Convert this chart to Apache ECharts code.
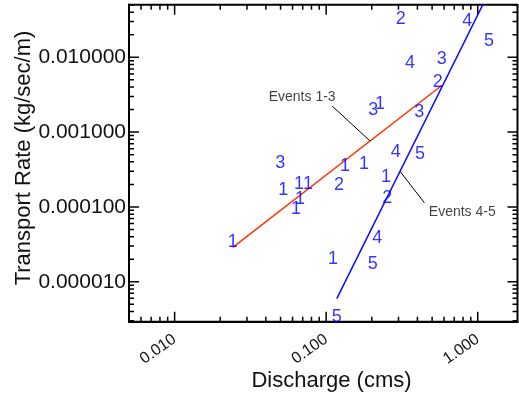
<!DOCTYPE html>
<html><head><meta charset="utf-8">
<script src="https://cdn.jsdelivr.net/npm/echarts@6/dist/echarts.min.js"></script>
<style>html,body{margin:0;padding:0;background:#fff}#c{width:519px;height:402px}</style>
</head><body><div id="c"></div>
<script>
// ---- data (Discharge [cms], Transport Rate [kg/sec/m]) ----
const event1 = [[0.2268,0.002375],[0.1333,0.000352],[0.1779,0.0003745],[0.0520,0.0001682],
  [0.0663,0.0002023],[0.0760,0.0002023],[0.2484,0.000251],[0.0673,0.0001275],
  [0.0633,0.0000937],[0.0242,0.00003395],[0.1111,0.0000201]];
const event2 = [[0.3105,0.03221],[0.5443,0.004719],[0.1217,0.0001932],[0.2534,0.0001303]];
const event3 = [[0.2048,0.001975],[0.5784,0.00949],[0.4118,0.001874],[0.0497,0.0003863]];
const event4 = [[0.8535,0.03085],[0.3575,0.008468],[0.2878,0.0005385],[0.2177,0.00003875]];
const event5 = [[1.186,0.01667],[0.416,0.0005095],[0.2029,0.0000171],[0.1175,0.00000337]];
// fitted lines
const fit13 = [[0.0242,0.0000288],[0.5784,0.0042]];
const fit45 = [[0.1175,0.00000594],[1.186,0.0739]];
// annotation leaders and labels
const leader13 = [[0.1094,0.002234],[0.1949,0.00076]];
const leader45 = [[0.4442,0.0001138],[0.3072,0.000299]];
const notes = [{name:'Events 1-3', value:[0.1163,0.0029], side:'left'},
               {name:'Events 4-5', value:[0.472,0.0000862], side:'right'}];
// axes
const X_MIN = 0.005, X_MAX = 1.83, Y_MIN = 0.00000292, Y_MAX = 0.0505;
const xMajor = [0.01, 0.1, 1];
const yMajor = [0.00001, 0.0001, 0.001, 0.01];
const xTitle = 'Discharge (cms)';
const yTitle = 'Transport Rate (kg/sec/m)';

function minors(lo, hi) {
  const out = [];
  for (let e = -7; e <= 1; e++) {
    for (let m = 2; m <= 9; m++) {
      const v = parseFloat((m * Math.pow(10, e)).toPrecision(6));
      if (v >= lo && v <= hi) out.push(v);
    }
  }
  return out;
}
const xMinor = minors(X_MIN, X_MAX);
const yMinor = minors(Y_MIN, Y_MAX);

// grid geometry (used only to turn tick lengths in px into log-axis offsets)
const W = 519, H = 402, GL = 129, GR = 1.5, GT = 4.7, GB = 80.3;
const decX = (W - GL - GR) / Math.log10(X_MAX / X_MIN);
const decY = (H - GT - GB) / Math.log10(Y_MAX / Y_MIN);
const fx = len => Math.pow(10, len / decX);
const fy = len => Math.pow(10, len / decY);
// tick segments on all four sides of the frame
const tickSegs = [];
function addX(v, len) {
  tickSegs.push([[v, Y_MIN], [v, Y_MIN * fy(len)]]);
  tickSegs.push([[v, Y_MAX], [v, Y_MAX / fy(len)]]);
}
function addY(v, len) {
  tickSegs.push([[X_MIN, v], [X_MIN * fx(len), v]]);
  tickSegs.push([[X_MAX, v], [X_MAX / fx(len), v]]);
}
xMajor.forEach(v => addX(v, 10)); xMinor.forEach(v => addX(v, 5));
yMajor.forEach(v => addY(v, 10)); yMinor.forEach(v => addY(v, 5));

const FONT = "'Liberation Sans', Arial, Helvetica, sans-serif";
const BLUE = '#0000ff';

const chart = echarts.init(document.getElementById('c'), null, {renderer: 'canvas'});

const digitLabel = (n) => ({
  show: true, position: 'inside', formatter: String(n), color: BLUE,
  fontFamily: FONT, fontSize: 18
});
function eventSeries(n, data) {
  return {type: 'scatter', name: 'Event ' + n, data: data, symbolSize: 1,
          itemStyle: {color: 'rgba(0,0,0,0)'}, label: digitLabel(n), z: 5, silent: true};
}
function lineSeries(data, color, width, z) {
  return {type: 'line', data: data, symbol: 'none', clip: true, silent: true,
          lineStyle: {color: color, width: width}, z: z || 3};
}

chart.setOption({
  animation: false,
  backgroundColor: '#fff',
  grid: {left: GL, right: GR, top: GT, bottom: GB, containLabel: false, outerBoundsMode: 'none',
         show: true, borderColor: '#000', borderWidth: 2, backgroundColor: 'rgba(0,0,0,0)'},
  xAxis: {
    type: 'log', logBase: 10, min: X_MIN, max: X_MAX, position: 'bottom',
    axisLine: {show: true, onZero: false, lineStyle: {color: '#000', width: 2}},
    axisTick: {show: false}, splitLine: {show: false},
    axisLabel: {show: true, customValues: xMajor, rotate: 35, margin: 16,
      fontFamily: FONT, fontSize: 16, color: '#111',
      formatter: v => Number(v).toFixed(3)}
  },
  yAxis: {
    type: 'log', logBase: 10, min: Y_MIN, max: Y_MAX, position: 'left',
    axisLine: {show: true, onZero: false, lineStyle: {color: '#000', width: 2}},
    axisTick: {show: false}, splitLine: {show: false},
    axisLabel: {show: true, customValues: yMajor, margin: 3,
      fontFamily: FONT, fontSize: 21, color: '#111',
      formatter: v => Number(v).toFixed(6)}
  },
  graphic: [
    {type: 'text', x: 331.5, y: 381, silent: true,
     style: {text: xTitle, font: '22px ' + FONT, fill: '#111', align: 'center', verticalAlign: 'middle'}},
    {type: 'text', x: 24, y: 158, rotation: Math.PI / 2, silent: true,
     style: {text: yTitle, font: '22px ' + FONT, fill: '#111', align: 'center', verticalAlign: 'middle'}}
  ],
  series: [].concat(
    tickSegs.map(s => lineSeries(s, '#000', 1.5, 2)),
    [
      lineSeries(fit13, '#ff3300', 1.5),
      lineSeries(fit45, '#0a0aff', 1.5),
      lineSeries(leader13, '#000', 1),
      lineSeries(leader45, '#000', 1),
      eventSeries(1, event1), eventSeries(2, event2), eventSeries(3, event3),
      eventSeries(4, event4), eventSeries(5, event5),
      {type: 'scatter', symbolSize: 1, itemStyle: {color: 'rgba(0,0,0,0)'}, silent: true, z: 6,
       data: notes.map(n => ({name: n.name, value: n.value,
         label: {show: true, position: n.side, distance: 0, formatter: '{b}',
                 fontFamily: FONT, fontSize: 14, color: '#111'}}))}
    ])
});
</script>
</body></html>
